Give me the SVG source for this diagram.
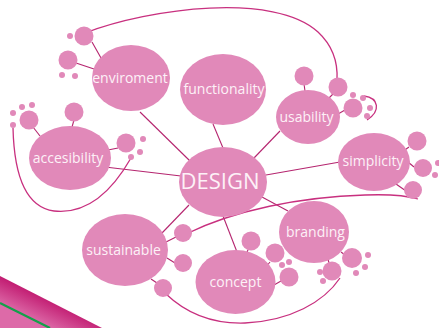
<svg xmlns="http://www.w3.org/2000/svg" width="439" height="328" viewBox="0 0 439 328">
<style>
.n{fill:#e189b9}
.b{fill:#e189b9}
.t{fill:#fdf1f7;font-family:"Open Sans","DejaVu Sans",sans-serif;font-size:14px;text-anchor:middle}
.big{font-size:22px}
.c{fill:none;stroke:#b5256f;stroke-width:1.1}
.cv{fill:none;stroke:#c8307f;stroke-width:1.3}
</style>
<defs>
<linearGradient id="band" gradientUnits="userSpaceOnUse" x1="30" y1="280" x2="15" y2="312">
<stop offset="0" stop-color="#b8005e"/>
<stop offset="1" stop-color="#dd6aa8"/>
</linearGradient>
</defs>
<rect width="439" height="328" fill="#ffffff"/>
<g id="corner">
<polygon points="0,276 102,328 0,328" fill="url(#band)"/>
<line x1="0" y1="303" x2="50" y2="328" stroke="#13a04a" stroke-width="2.2"/>
</g>
<g id="connectors">
<line class="c" x1="140" y1="112" x2="190" y2="161"/>
<line class="c" x1="213" y1="124" x2="223" y2="148"/>
<line class="c" x1="280" y1="131" x2="254" y2="158"/>
<line class="c" x1="105" y1="167" x2="181" y2="176"/>
<line class="c" x1="266" y1="175" x2="340" y2="162"/>
<line class="c" x1="262" y1="197" x2="288" y2="211"/>
<line class="c" x1="223" y1="216" x2="237" y2="252"/>
<line class="c" x1="189" y1="205" x2="162" y2="233"/>
<line class="c" x1="92" y1="42" x2="101" y2="58"/>
<line class="c" x1="76" y1="63" x2="94" y2="69"/>
<line class="c" x1="74" y1="120" x2="72" y2="127"/>
<line class="c" x1="33" y1="127" x2="40" y2="136"/>
<line class="c" x1="118" y1="148" x2="108" y2="150"/>
<line class="c" x1="304" y1="84" x2="305" y2="91"/>
<line class="c" x1="333" y1="94" x2="328" y2="99"/>
<line class="c" x1="345" y1="110" x2="338" y2="114"/>
<line class="c" x1="409" y1="147" x2="402" y2="152"/>
<line class="c" x1="414" y1="167" x2="408" y2="162"/>
<line class="c" x1="406" y1="191" x2="396" y2="184"/>
<line class="c" x1="176" y1="237" x2="166" y2="242"/>
<line class="c" x1="175" y1="263" x2="167" y2="258"/>
<line class="c" x1="157" y1="283" x2="151" y2="279"/>
<line class="c" x1="248" y1="250" x2="246" y2="254"/>
<line class="c" x1="270" y1="262" x2="265" y2="268"/>
<line class="c" x1="281" y1="281" x2="274" y2="285"/>
<line class="c" x1="345" y1="255" x2="341" y2="252"/>
<line class="c" x1="329" y1="263" x2="328" y2="259"/>
<path class="cv" d="M85,33 C150,8 275,-8 318,32 C332,45 338,62 337,80"/>
<path class="cv" d="M364,96 C379,98 381,111 367,120"/>
<path class="cv" d="M13,128 C14,170 24,207 54,211 C90,215 115,186 131,158"/>
<path class="cv" d="M186,234 C235,210 300,197 365,195 C392,194 408,196 418,199"/>
<path class="cv" d="M166,294 C188,315 215,324 245,323 C290,321 324,302 340,278"/>
</g>
<g id="bubbles">
<circle class="b" cx="84" cy="36" r="9.5"/>
<circle class="b" cx="70" cy="36" r="3"/>
<circle class="b" cx="68" cy="60" r="9.5"/>
<circle class="b" cx="62" cy="75" r="3"/>
<circle class="b" cx="75" cy="76" r="3"/>
<circle class="b" cx="74" cy="112" r="9.5"/>
<circle class="b" cx="29" cy="120" r="9.5"/>
<circle class="b" cx="13" cy="113" r="3"/>
<circle class="b" cx="22" cy="107" r="3"/>
<circle class="b" cx="32" cy="105" r="3"/>
<circle class="b" cx="13" cy="125" r="3"/>
<circle class="b" cx="126" cy="143" r="9.5"/>
<circle class="b" cx="143" cy="139" r="3"/>
<circle class="b" cx="140" cy="152" r="3"/>
<circle class="b" cx="131" cy="157" r="3"/>
<circle class="b" cx="304" cy="76" r="9.5"/>
<circle class="b" cx="338" cy="87" r="9.5"/>
<circle class="b" cx="353" cy="108" r="9.5"/>
<circle class="b" cx="353" cy="95" r="3"/>
<circle class="b" cx="363" cy="98" r="3"/>
<circle class="b" cx="370" cy="108" r="3"/>
<circle class="b" cx="367" cy="116" r="3"/>
<circle class="b" cx="417" cy="141" r="9.5"/>
<circle class="b" cx="423" cy="168" r="9"/>
<circle class="b" cx="413" cy="190" r="9"/>
<circle class="b" cx="438" cy="163" r="3"/>
<circle class="b" cx="435" cy="175" r="3"/>
<circle class="b" cx="183" cy="233" r="9"/>
<circle class="b" cx="183" cy="263" r="9"/>
<circle class="b" cx="163" cy="288" r="9"/>
<circle class="b" cx="251" cy="241" r="9.5"/>
<circle class="b" cx="275" cy="253" r="9.5"/>
<circle class="b" cx="289" cy="277" r="9.5"/>
<circle class="b" cx="282" cy="265" r="3"/>
<circle class="b" cx="289" cy="262" r="3"/>
<circle class="b" cx="352" cy="258" r="10"/>
<circle class="b" cx="332" cy="271" r="9.5"/>
<circle class="b" cx="368" cy="255" r="3"/>
<circle class="b" cx="365" cy="267" r="3"/>
<circle class="b" cx="356" cy="273" r="3"/>
<circle class="b" cx="320" cy="272" r="3"/>
<circle class="b" cx="323" cy="281" r="3"/>
</g>
<g id="enviroment"><ellipse class="n" cx="131" cy="78" rx="39" ry="33"/><text class="t" x="130" y="83">enviroment</text></g>
<g id="functionality"><ellipse class="n" cx="223" cy="89.5" rx="43" ry="35.5"/><text class="t" x="224" y="94">functionality</text></g>
<g id="usability"><ellipse class="n" cx="308" cy="117" rx="32" ry="27"/><text class="t" x="306.5" y="122">usability</text></g>
<g id="accesibility"><ellipse class="n" cx="70" cy="158" rx="41" ry="32"/><text class="t" x="68" y="163">accesibility</text></g>
<g id="design"><ellipse class="n" cx="223" cy="182" rx="44" ry="35"/><text class="t big" x="220" y="189">DESIGN</text></g>
<g id="simplicity"><ellipse class="n" cx="374" cy="162" rx="36" ry="29"/><text class="t" x="373" y="166">simplicity</text></g>
<g id="branding"><ellipse class="n" cx="314" cy="232" rx="35" ry="31"/><text class="t" x="315.5" y="237">branding</text></g>
<g id="concept"><ellipse class="n" cx="235.5" cy="282" rx="40" ry="32"/><text class="t" x="235.5" y="287">concept</text></g>
<g id="sustainable"><ellipse class="n" cx="125" cy="250" rx="43" ry="36"/><text class="t" x="123.5" y="255">sustainable</text></g>
</svg>
